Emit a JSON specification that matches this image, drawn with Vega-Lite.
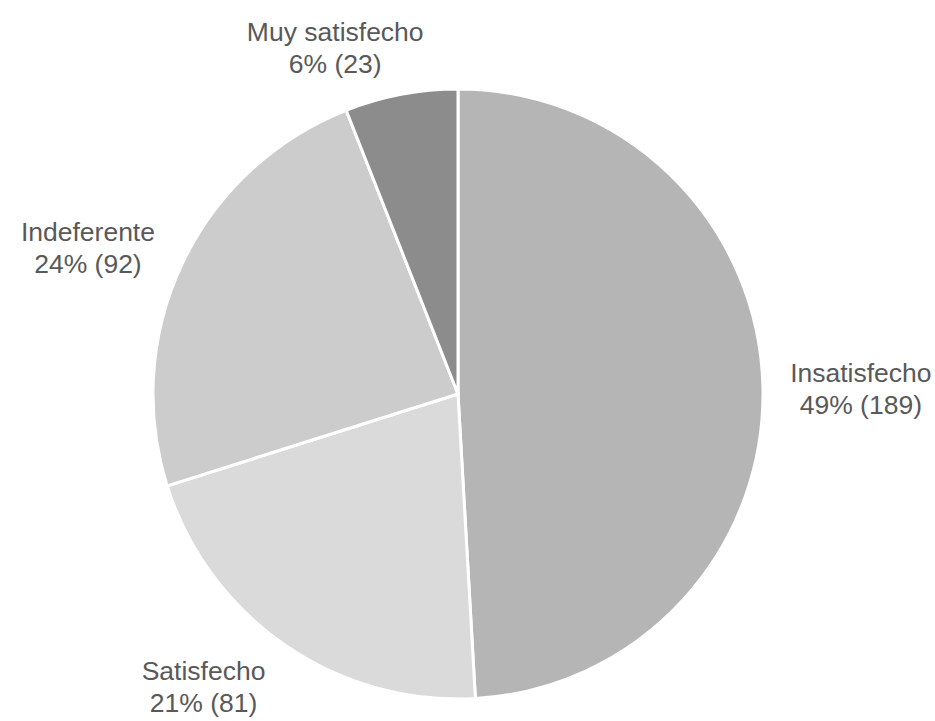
{
  "$schema": "https://vega.github.io/schema/vega-lite/v6.json",
  "width": 916,
  "height": 654,
  "padding": {"left": 0, "top": 67, "right": 19, "bottom": 0},
  "autosize": "none",
  "background": "white",
  "config": {"view": {"stroke": null}},
  "data": {
    "values": [
      {"category": "Insatisfecho", "count": 189, "label": "Insatisfecho\n49% (189)"},
      {"category": "Satisfecho", "count": 81, "label": "Satisfecho\n21% (81)"},
      {"category": "Indeferente", "count": 92, "label": "Indeferente\n24% (92)"},
      {"category": "Muy satisfecho", "count": 23, "label": "Muy satisfecho\n6% (23)"}
    ]
  },
  "transform": [
    {"window": [{"op": "row_number", "as": "rank"}]}
  ],
  "encoding": {
    "theta": {"field": "count", "type": "quantitative", "stack": true},
    "order": {"field": "rank", "type": "quantitative", "sort": "ascending"}
  },
  "layer": [
    {
      "mark": {"type": "arc", "outerRadius": 305, "stroke": "white", "strokeWidth": 3},
      "encoding": {
        "color": {
          "field": "category",
          "type": "nominal",
          "scale": {
            "domain": ["Insatisfecho", "Satisfecho", "Indeferente", "Muy satisfecho"],
            "range": ["#b5b5b5", "#dadada", "#cccccc", "#8c8c8c"]
          },
          "legend": null
        }
      }
    },
    {
      "mark": {
        "type": "text",
        "radius": 390,
        "font": "Liberation Sans",
        "fontSize": 26.5,
        "lineHeight": 32,
        "lineBreak": "\n",
        "align": "center",
        "baseline": "middle",
        "fill": "#595959",
        "dx": {"expr": "datum.category === 'Insatisfecho' ? 13 : datum.category === 'Satisfecho' ? -33 : datum.category === 'Indeferente' ? -18 : -50"},
        "dy": {"expr": "datum.category === 'Insatisfecho' ? -9 : datum.category === 'Satisfecho' ? -43 : datum.category === 'Indeferente' ? 7 : 22"}
      },
      "encoding": {
        "text": {"field": "label", "type": "nominal"}
      }
    }
  ]
}
